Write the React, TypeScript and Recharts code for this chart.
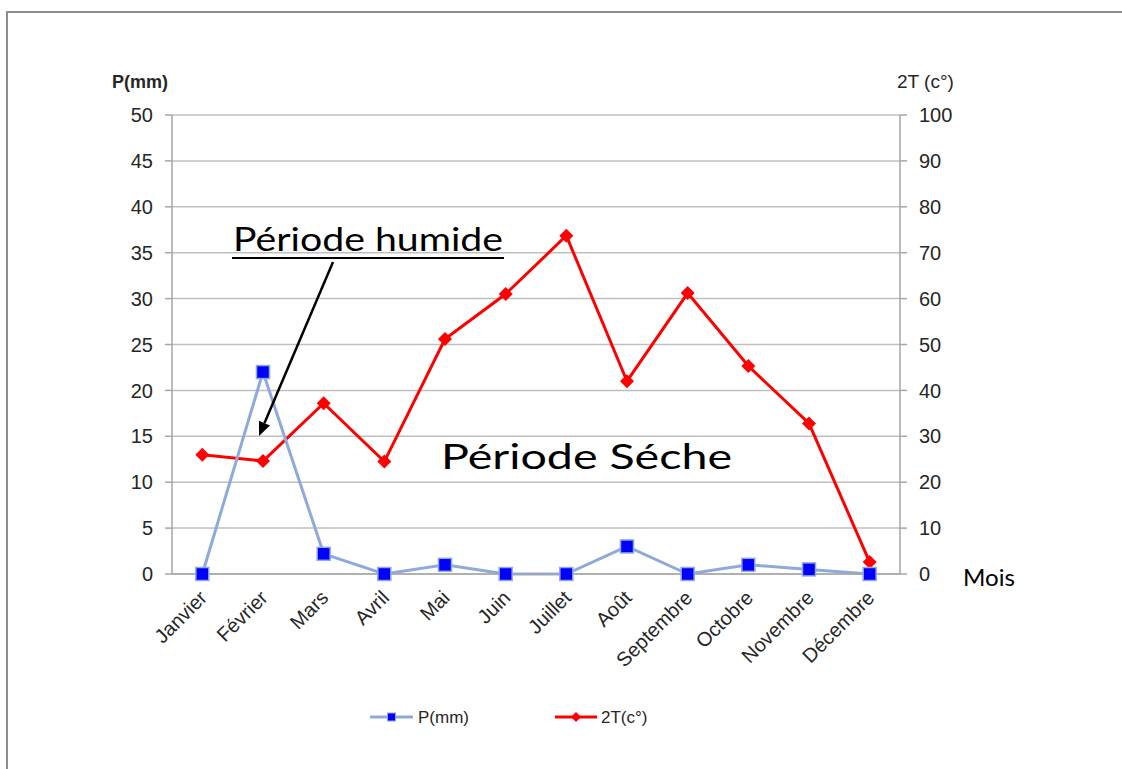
import { CartesianGrid, Legend, Line, LineChart, XAxis, YAxis } from "recharts";

const MONTHS = [
  "Janvier",
  "Février",
  "Mars",
  "Avril",
  "Mai",
  "Juin",
  "Juillet",
  "Août",
  "Septembre",
  "Octobre",
  "Novembre",
  "Décembre",
];
const P_MM = [0, 22, 2.2, 0, 1, 0, 0, 3, 0, 1, 0.5, 0];
const T2 = [26, 24.6, 37.2, 24.5, 51.2, 61, 73.7, 42, 61.2, 45.3, 32.8, 2.6];
const P_TICKS = [0, 5, 10, 15, 20, 25, 30, 35, 40, 45, 50];
const T_TICKS = [0, 10, 20, 30, 40, 50, 60, 70, 80, 90, 100];

const data = MONTHS.map((m, i) => ({ month: m, p: P_MM[i], t: T2[i] }));

const AXIS_FONT = "'Liberation Sans', Arial, sans-serif";
const NOTE_FONT = "Lato, 'Open Sans', sans-serif";
const GRID = "#bfbfbf";
const AXIS = "#a6a6a6";
const INK = "#262626";
const P_LINE = "#8eaadb";

function SquareDot(props: { cx?: number; cy?: number }) {
  const { cx, cy } = props;
  if (cx == null || cy == null) return null;
  return (
    <rect
      x={cx - 6.5}
      y={cy - 6.5}
      width={13}
      height={13}
      fill="#0000ff"
      stroke={P_LINE}
      strokeWidth={1.5}
    />
  );
}

function DiamondDot(props: { cx?: number; cy?: number }) {
  const { cx, cy } = props;
  if (cx == null || cy == null) return null;
  const r = 7;
  return (
    <polygon
      points={`${cx},${cy - r} ${cx + r},${cy} ${cx},${cy + r} ${cx - r},${cy}`}
      fill="#ff0000"
    />
  );
}

function MonthTick(props: { x?: number; y?: number; payload?: { value: string } }) {
  const { x = 0, y = 0, payload } = props;
  return (
    <text
      x={x + 6}
      y={y + 17}
      transform={`rotate(-45 ${x + 6} ${y + 17})`}
      textAnchor="end"
      fontFamily={AXIS_FONT}
      fontSize={20}
      fill={INK}
    >
      {payload?.value}
    </text>
  );
}

function LegendBox() {
  return (
    <svg width={1122} height={30} style={{ display: "block" }}>
      <line x1={370} y1={15} x2={413} y2={15} stroke={P_LINE} strokeWidth={3} />
      <rect x={387.5} y={11} width={8} height={8} fill="#0000ff" stroke={P_LINE} />
      <text x={418} y={21} fontFamily={AXIS_FONT} fontSize={17} fill={INK}>
        P(mm)
      </text>
      <line x1={555} y1={15} x2={597} y2={15} stroke="#ff0000" strokeWidth={3} />
      <polygon points="576,10 581,15 576,20 571,15" fill="#ff0000" />
      <text x={601} y={21} fontFamily={AXIS_FONT} fontSize={17} fill={INK}>
        2T(c°)
      </text>
    </svg>
  );
}

export default function App() {
  return (
    <div
      style={{
        position: "fixed",
        left: 0,
        top: 0,
        width: 1122,
        height: 769,
        background: "#fff",
        overflow: "hidden",
      }}
    >
      <div
        style={{
          position: "absolute",
          left: 6,
          top: 11,
          width: 1200,
          height: 800,
          borderTop: "2px solid #8c8c8c",
          borderLeft: "2px solid #8c8c8c",
        }}
      />
      <div style={{ position: "absolute", left: 0, top: 0 }}>
        <LineChart
          width={1122}
          height={769}
          data={data}
          margin={{ top: 115, right: 162, left: 112, bottom: 95 }}
        >
          <CartesianGrid yAxisId="p" vertical={false} stroke={GRID} strokeWidth={1.5} />
          <XAxis
            dataKey="month"
            height={100}
            padding={{ left: 30.33, right: 30.33 }}
            axisLine={{ stroke: AXIS, strokeWidth: 1.5 }}
            tickLine={false}
            interval={0}
            tick={<MonthTick />}
          />
          <YAxis
            yAxisId="p"
            width={60}
            domain={[0, 50]}
            ticks={P_TICKS}
            interval={0}
            tickSize={7}
            tickMargin={12}
            axisLine={{ stroke: AXIS, strokeWidth: 1.5 }}
            tickLine={{ stroke: AXIS, strokeWidth: 1.5 }}
            tick={{ fontFamily: AXIS_FONT, fontSize: 20, fill: INK }}
          />
          <YAxis
            yAxisId="t"
            orientation="right"
            width={60}
            domain={[0, 100]}
            ticks={T_TICKS}
            interval={0}
            tickSize={7}
            tickMargin={12}
            axisLine={{ stroke: AXIS, strokeWidth: 1.5 }}
            tickLine={{ stroke: AXIS, strokeWidth: 1.5 }}
            tick={{ fontFamily: AXIS_FONT, fontSize: 20, fill: INK, textAnchor: "start" }}
          />
          <Legend
            layout="horizontal"
            verticalAlign="middle"
            align="center"
            wrapperStyle={{ left: 0, top: 702, width: 1122, height: 30 }}
            content={() => <LegendBox />}
          />
          <Line
            yAxisId="t"
            dataKey="t"
            name="2T(c°)"
            type="linear"
            stroke="#ff0000"
            strokeWidth={3}
            dot={<DiamondDot />}
            activeDot={false}
            isAnimationActive={false}
          />
          <Line
            yAxisId="p"
            dataKey="p"
            name="P(mm)"
            type="linear"
            stroke={P_LINE}
            strokeWidth={3}
            dot={<SquareDot />}
            activeDot={false}
            isAnimationActive={false}
          />
        </LineChart>
      </div>
      <svg
        width={1122}
        height={769}
        style={{ position: "absolute", left: 0, top: 0, pointerEvents: "none" }}
      >
        <text x={112} y={88} fontFamily={AXIS_FONT} fontWeight="bold" fontSize={18} fill={INK}>
          P(mm)
        </text>
        <text x={897} y={88} fontFamily={AXIS_FONT} fontSize={19} fill={INK}>
          2T (c°)
        </text>
        <text
          x={233}
          y={251}
          fontFamily={NOTE_FONT}
          fontSize={33}
          fill="#000"
          textLength={270}
          lengthAdjust="spacingAndGlyphs"
        >
          Période humide
        </text>
        <line x1={232} y1={258} x2={504} y2={258} stroke="#000" strokeWidth={2} />
        <line x1={333} y1={262} x2={264.5} y2={423} stroke="#000" strokeWidth={2.5} />
        <polygon points="259,436 270,425.4 259,420.8" fill="#000" />
        <text
          x={441}
          y={469}
          fontFamily={NOTE_FONT}
          fontSize={34}
          fill="#000"
          textLength={291}
          lengthAdjust="spacingAndGlyphs"
        >
          Période Séche
        </text>
        <text
          x={963}
          y={586}
          fontFamily={NOTE_FONT}
          fontSize={23}
          fill="#000"
          textLength={52}
          lengthAdjust="spacingAndGlyphs"
        >
          Mois
        </text>
      </svg>
    </div>
  );
}
